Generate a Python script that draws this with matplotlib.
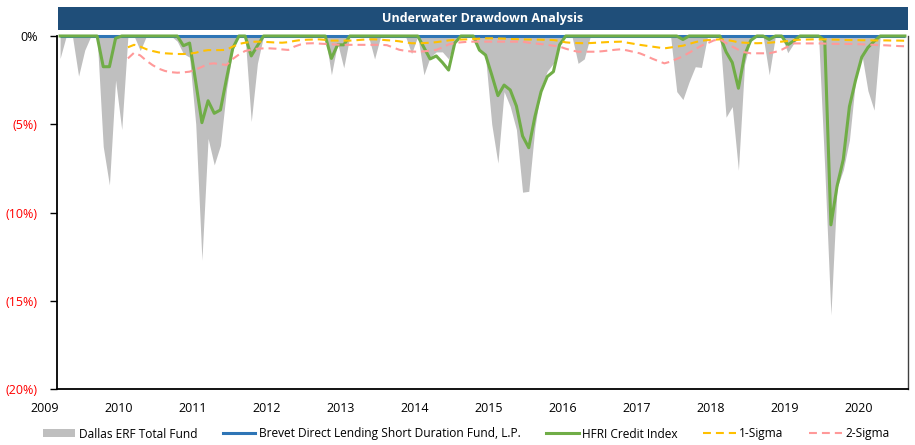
import matplotlib
matplotlib.use("Agg")
import matplotlib.pyplot as plt
from matplotlib.patches import Patch, Rectangle
from matplotlib.lines import Line2D
import numpy as np

plt.rcParams['font.family'] = ['Open Sans', 'DejaVu Sans']

# ---- data (monthly drawdowns, %) ----
years = ['2009', '2010', '2011', '2012', '2013', '2014', '2015', '2016', '2017', '2018', '2019', '2020']
year_pos = [-2.45 + 12 * k for k in range(len(years))]

dallas = [
    -1.27, 0, 0, -2.27, -0.8, 0, 0, -6.27, -8.44, -2.5,
    -5.3, 0, 0, -0.83, 0, 0, 0, 0, 0, -0.3,
    -1.0, -1.2, -5.0, -12.7, -5.8, -7.3, -6.2, -3.0, -0.8, 0,
    0, -4.85, -1.55, 0, 0, 0, 0, 0, 0, 0,
    0, 0, 0, 0, -2.2, -0.4, -1.8, 0, 0, 0,
    0, -1.3, 0, 0, 0, 0, 0, -1.0, 0, -2.2,
    -1.2, -0.9, -0.9, -1.3, -0.3, 0, 0, 0, -0.8, -1.2,
    -5.0, -7.2, -3.15, -4.0, -5.3, -8.85, -8.8, -5.2, -2.9, -2.0,
    -1.55, -0.4, 0, 0, -1.55, -1.3, 0, 0, 0, 0,
    0, 0, 0, 0, 0, 0, 0, 0, 0, 0,
    -3.15, -3.6, -2.6, -1.74, -1.78, 0, 0, 0, -4.6, -4.0,
    -7.6, -1.6, -0.2, 0, 0, -2.2, 0, 0, -0.95, -0.4,
    0, 0, 0, 0, -7.5, -15.8, -8.6, -7.6, -5.9, -2.5,
    -1.0, -3.1, -4.2, 0, 0, 0, 0, 0,
]

brevet = [0.0] * 138

hfri = [
    0, 0, 0, 0, 0, 0, 0, -1.74, -1.74, -0.13,
    0, 0, 0, 0, 0, 0, 0, 0, 0, 0,
    -0.55, -0.4, -2.6, -4.91, -3.67, -4.38, -4.19, -2.4, -0.7, 0,
    0, -1.13, -0.55, 0, 0, 0, 0, 0, 0, 0,
    0, 0, 0, 0, -1.27, -0.5, -0.5, 0, 0, 0,
    0, 0, 0, 0, 0, 0, 0, 0, 0, -0.65,
    -1.3, -1.13, -1.5, -1.93, -0.4, 0, 0, 0, -0.8, -1.08,
    -2.2, -3.38, -2.78, -3.06, -3.97, -5.67, -6.33, -4.57, -3.15, -2.3,
    -2.02, -0.5, 0, 0, 0, 0, 0, 0, 0, 0,
    0, 0, 0, 0, 0, 0, 0, 0, 0, 0,
    0, -0.2, 0, 0, 0, 0, 0, 0, -0.9, -1.5,
    -2.96, -1.08, -0.25, 0, 0, -0.2, 0, 0, -0.5, -0.27,
    0, 0, 0, 0, -0.25, -10.7, -8.5, -7.0, -4.0, -2.5,
    -1.2, -0.65, -0.3, 0, 0, 0, 0, 0,
]

sigma_start = 11
sigma1 = [
    -0.64, -0.5, -0.6, -0.75, -0.85, -0.93, -0.98, -1.0, -1.02,
    -1.02, -1.0, -0.95, -0.85, -0.8, -0.8, -0.8, -0.78, -0.6, -0.45,
    -0.38, -0.33, -0.32, -0.33, -0.35, -0.37, -0.38, -0.35, -0.28, -0.23,
    -0.21, -0.2, -0.19, -0.22, -0.26, -0.26, -0.26, -0.26, -0.24, -0.21,
    -0.19, -0.19, -0.21, -0.24, -0.26, -0.3, -0.36, -0.41, -0.41, -0.4,
    -0.38, -0.35, -0.3, -0.25, -0.22, -0.2, -0.19, -0.17, -0.15, -0.13,
    -0.13, -0.14, -0.15, -0.17, -0.18, -0.19, -0.2, -0.2, -0.21, -0.22,
    -0.23, -0.28, -0.36, -0.39, -0.4, -0.41, -0.4, -0.38, -0.36, -0.34,
    -0.33, -0.32, -0.38, -0.44, -0.5, -0.55, -0.6, -0.65, -0.7, -0.65,
    -0.6, -0.55, -0.45, -0.35, -0.27, -0.23, -0.21, -0.19, -0.22, -0.28,
    -0.36, -0.38, -0.4, -0.41, -0.4, -0.38, -0.35, -0.32, -0.28, -0.23,
    -0.21, -0.2, -0.19, -0.19, -0.19, -0.2, -0.21, -0.22, -0.23, -0.23,
    -0.24, -0.24, -0.25, -0.25, -0.25, -0.26, -0.26, -0.27,
]
sigma2 = [
    -1.27, -0.95, -1.1, -1.4, -1.65, -1.85, -1.98, -2.05, -2.08,
    -2.06, -2.02, -1.9, -1.75, -1.58, -1.55, -1.6, -1.64, -1.3, -1.05,
    -0.85, -0.78, -0.72, -0.7, -0.7, -0.72, -0.76, -0.79, -0.6, -0.48,
    -0.42, -0.41, -0.43, -0.45, -0.47, -0.49, -0.5, -0.5, -0.5, -0.5,
    -0.5, -0.5, -0.5, -0.52, -0.65, -0.78, -0.84, -0.88, -0.89, -0.87,
    -0.83, -0.79, -0.65, -0.48, -0.4, -0.36, -0.33, -0.32, -0.32, -0.32,
    -0.32, -0.32, -0.32, -0.32, -0.32, -0.32, -0.38, -0.42, -0.46, -0.5,
    -0.55, -0.6, -0.72, -0.82, -0.89, -0.89, -0.89, -0.89, -0.86, -0.82,
    -0.78, -0.75, -0.82, -0.9, -0.98, -1.12, -1.28, -1.42, -1.55, -1.45,
    -1.3, -1.15, -0.95, -0.75, -0.55, -0.41, -0.25, -0.19, -0.4, -0.6,
    -0.78, -0.92, -0.98, -0.98, -0.98, -0.98, -0.9, -0.78, -0.6, -0.42,
    -0.42, -0.42, -0.42, -0.42, -0.43, -0.44, -0.45, -0.45, -0.45, -0.46,
    -0.47, -0.49, -0.5, -0.52, -0.53, -0.55, -0.57, -0.58,
]

y_ticks = [0, -5, -10, -15, -20]
y_labels = ['0%', '(5%)', '(10%)', '(15%)', '(20%)']

# ---- colours ----
C_GRAY = '#BFBFBF'
C_BLUE = '#2E75B6'
C_GREEN = '#70AD47'
C_ORANGE = '#FFC000'
C_PINK = '#FF9999'
C_BANNER = '#1F4E79'

fig = plt.figure(figsize=(9.15, 4.45), dpi=100)
ax = fig.add_axes([57 / 915, 1 - 389 / 445, 851 / 915, 353 / 445])

x = np.arange(len(dallas))
xs = np.arange(sigma_start, sigma_start + len(sigma1))

ax.fill_between(x, dallas, 0, color=C_GRAY, linewidth=0, zorder=1)
ax.plot(x, brevet, color=C_BLUE, lw=2.2, zorder=3, clip_on=False, solid_capstyle='butt')
ax.plot(x, hfri, color=C_GREEN, lw=2.2, zorder=4, clip_on=False, solid_joinstyle='round')
l1, = ax.plot(xs, sigma1, color=C_ORANGE, lw=1.5, zorder=5)
l1.set_dashes((3.8, 2.4))
l2, = ax.plot(xs, sigma2, color=C_PINK, lw=1.5, zorder=6)
l2.set_dashes((3.8, 2.4))

ax.set_xlim(-0.5, 137.5)
ax.set_ylim(-20, 0)
ax.set_xticks([])
ax.set_yticks(y_ticks)
ax.set_yticklabels(y_labels)
for lab, v in zip(ax.get_yticklabels(), y_ticks):
    lab.set_color('black' if v == 0 else '#FF0000')
ax.tick_params(axis='y', direction='out', length=5, width=1, pad=9, labelsize=9)

for s in ['left', 'bottom']:
    ax.spines[s].set_color('black')
    ax.spines[s].set_linewidth(1.3)
ax.spines['right'].set_color('#404040')
ax.spines['right'].set_linewidth(1.0)
ax.spines['top'].set_visible(False)

for yr, pos in zip(years, year_pos):
    ax.text(pos, -20 / 353, yr, transform=ax.get_xaxis_transform(), ha='center', va='center',
            fontsize=9, clip_on=False)

# title banner
fig.patches.append(Rectangle((58 / 915, 1 - 30 / 445), 850 / 915, 23 / 445,
                             transform=fig.transFigure, facecolor=C_BANNER, edgecolor='none'))
fig.text(483 / 915, 1 - 18.5 / 445, 'Underwater Drawdown Analysis', ha='center', va='center',
         color='white', fontsize=9, fontweight='bold')

handles = [
    Patch(facecolor=C_GRAY, edgecolor='none'),
    Line2D([], [], color=C_BLUE, lw=2.2),
    Line2D([], [], color=C_GREEN, lw=2.2),
    Line2D([], [], color=C_ORANGE, lw=1.5, dashes=(3.8, 2.4)),
    Line2D([], [], color=C_PINK, lw=1.5, dashes=(3.8, 2.4)),
]
labels = ['Dallas ERF Total Fund', 'Brevet Direct Lending Short Duration Fund, L.P.',
          'HFRI Credit Index', '1-Sigma', '2-Sigma']
fig.legend(handles, labels, loc='center', bbox_to_anchor=(466 / 915, 1 - 434 / 445), ncol=5,
           frameon=False, fontsize=8.6, handlelength=2.75, handletextpad=0.3, columnspacing=2.1,
           handleheight=0.6, borderpad=0, borderaxespad=0)

fig.savefig('out.png', dpi=100)
